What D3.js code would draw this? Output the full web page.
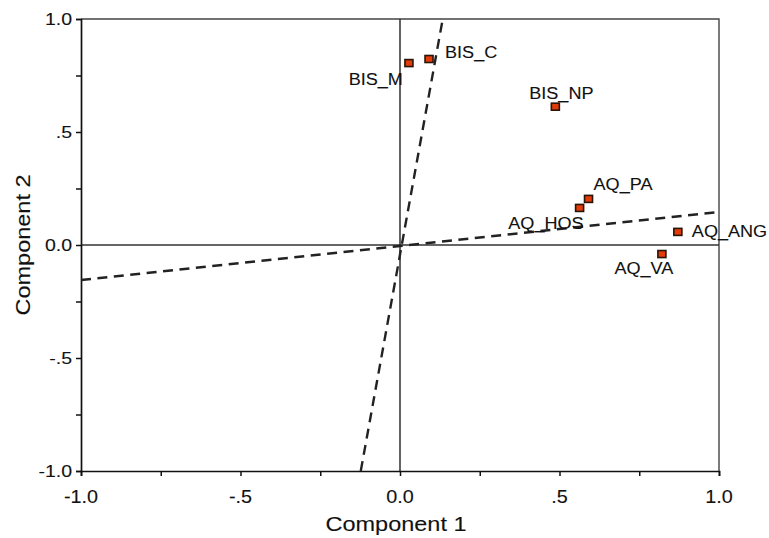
<!DOCTYPE html>
<html>
<head>
<meta charset="utf-8">
<script src="https://cdn.jsdelivr.net/npm/d3@7"></script>
<style>
  body { margin: 0; background: #fff; }
  text { font-family: "Liberation Sans", Arial, sans-serif; fill: #111; stroke: #111; stroke-width: 0.1; }
</style>
</head>
<body>
<svg id="chart" width="769" height="538"></svg>
<script>
// loadings (component 1, component 2)
let names = ["BIS_M", "BIS_C", "BIS_NP", "AQ_PA", "AQ_HOS", "AQ_ANG", "AQ_VA"];
let comp1 = [0.028, 0.091, 0.487, 0.591, 0.563, 0.871, 0.821];
let comp2 = [0.805, 0.823, 0.612, 0.204, 0.164, 0.058, -0.040];

// dashed rotated axes, end points
let steepX = [-0.123, 0.134];
let steepY = [-1, 1];
let flatX = [-1, 1];
let flatY = [-0.155, 0.146];

let tickVals = [-1, -0.75, -0.5, -0.25, 0, 0.25, 0.5, 0.75, 1];
let labelVals = [-1, -0.5, 0, 0.5, 1];
let tickText = ["-1.0", "-.5", "0.0", ".5", "1.0"];

// label placement next to each point (px)
let lblPos = [
  {dx: -6, dy: 22, anchor: "end"},
  {dx: 16, dy: -1, anchor: "start"},
  {dx: 6, dy: -8, anchor: "middle"},
  {dx: 5, dy: -9, anchor: "start"},
  {dx: 4, dy: 21, anchor: "end"},
  {dx: 14, dy: 5, anchor: "start"},
  {dx: -18, dy: 20, anchor: "middle"}
];

let svg = d3.select("#chart");
let pLeft = 81, pRight = 719, pTop = 19, pBottom = 471;

let x = d3.scaleLinear().domain([-1, 1]).range([pLeft, pRight]);
let y = d3.scaleLinear().domain([-1, 1]).range([pBottom, pTop]);

function fmt(v) {
  let i = labelVals.indexOf(v);
  return i >= 0 ? tickText[i] : "";
}

// frame top + right
svg.append("path")
  .attr("d", `M${pLeft},${pTop}H${pRight}V${pBottom}`)
  .attr("fill", "none").attr("stroke", "#444").attr("stroke-width", 1.4);

// zero lines
svg.append("line").attr("x1", x(-1)).attr("x2", x(1)).attr("y1", y(0)).attr("y2", y(0))
  .attr("stroke", "#333").attr("stroke-width", 1.5);
svg.append("line").attr("x1", x(0)).attr("x2", x(0)).attr("y1", y(-1)).attr("y2", y(1))
  .attr("stroke", "#222").attr("stroke-width", 1.4);

// axes
let xAxis = d3.axisBottom(x).tickValues(tickVals).tickSize(5).tickFormat("");
let yAxis = d3.axisLeft(y).tickValues(tickVals).tickSize(5).tickFormat("");

let gx = svg.append("g").attr("transform", `translate(0,${pBottom})`).call(xAxis);
let gy = svg.append("g").attr("transform", `translate(${pLeft},0)`).call(yAxis);
[gx, gy].forEach(g => {
  g.select(".domain").attr("stroke", "#111").attr("stroke-width", 1.7);
  g.selectAll(".tick line").attr("stroke", "#111").attr("stroke-width", 1.5);
});

// tick labels, a bit wide like the original
labelVals.forEach(v => {
  svg.append("text")
    .attr("transform", `translate(${x(v)},503) scale(1.1,1)`)
    .attr("text-anchor", "middle")
    .style("font-size", "18px")
    .text(fmt(v));
  svg.append("text")
    .attr("transform", `translate(72,${y(v) + 6}) scale(1.22,1)`)
    .attr("text-anchor", "end")
    .style("font-size", "16px")
    .text(fmt(v));
});

// dashed lines
let line = d3.line().x(d => x(d[0])).y(d => y(d[1]));
svg.append("path")
  .attr("d", line(d3.zip(steepX, steepY)))
  .attr("fill", "none").attr("stroke", "#222").attr("stroke-width", 2.4)
  .attr("stroke-dasharray", "10,6.5");
svg.append("path")
  .attr("d", line(d3.zip(flatX, flatY)))
  .attr("fill", "none").attr("stroke", "#222").attr("stroke-width", 2.4)
  .attr("stroke-dasharray", "10,6.5");

// points
let pts = names.map((n, i) => ({name: n, c1: comp1[i], c2: comp2[i], pos: lblPos[i]}));

svg.selectAll("rect.pt").data(pts).enter().append("rect")
  .attr("class", "pt")
  .attr("x", d => x(d.c1) - 4)
  .attr("y", d => y(d.c2) - 3.5)
  .attr("width", 8).attr("height", 7)
  .attr("fill", "#e33c08")
  .attr("stroke", "#2a1408").attr("stroke-width", 1.6);

svg.selectAll("text.lbl").data(pts).enter().append("text")
  .attr("class", "lbl")
  .attr("transform", d => `translate(${x(d.c1) + d.pos.dx},${y(d.c2) + d.pos.dy}) scale(1.13,1)`)
  .attr("text-anchor", d => d.pos.anchor)
  .style("font-size", "16px")
  .text(d => d.name);

// axis titles
svg.append("text")
  .attr("transform", "translate(396,531) scale(1.12,1)")
  .attr("text-anchor", "middle")
  .style("font-size", "21px")
  .text("Component 1");

svg.append("text")
  .attr("transform", `translate(30,${y(0)}) rotate(-90) scale(1.12,1)`)
  .attr("text-anchor", "middle")
  .style("font-size", "21px")
  .text("Component 2");
</script>
</body>
</html>
